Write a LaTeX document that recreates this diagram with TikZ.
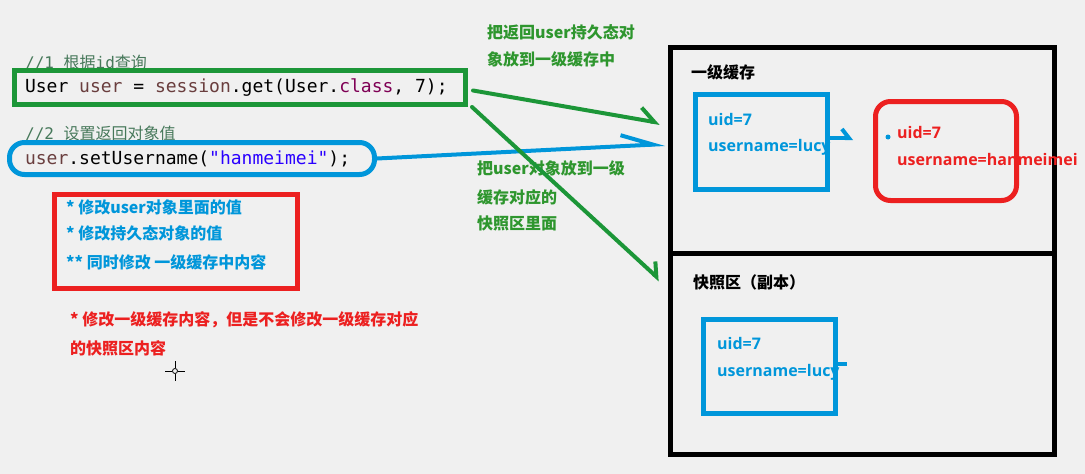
\documentclass[tikz,border=0pt]{standalone}
\usepackage{fontspec}
\setmainfont{Noto Sans CJK SC}
\newfontfamily\codefont{DejaVu Sans Mono}
\newfontfamily\fieldfont{Open Sans}
\usetikzlibrary{arrows.meta}
\newcommand\monosize[1]{\codefont\fontsize{#1}{#1}\selectfont}

\definecolor{bg}{RGB}{240,240,240}
\definecolor{mkgreen}{RGB}{28,150,56}
\definecolor{notegreen}{RGB}{46,150,46}
\definecolor{mkblue}{RGB}{0,150,218}
\definecolor{mkred}{RGB}{236,32,32}
\definecolor{cmtgreen}{RGB}{70,120,90}
\definecolor{varbrown}{RGB}{106,62,62}
\definecolor{kwpurple}{RGB}{127,0,85}
\definecolor{strblue}{RGB}{42,0,255}

\tikzset{
  cmt/.style={anchor=west, inner sep=0, text=cmtgreen, font=\fontsize{16}{18}\selectfont},
  codebox/.style={line width=5pt, inner ysep=0, align=left, font=\monosize{18},
    execute at begin node={\spaceskip=0pt\xspaceskip=0pt\relax}},
  pen/.style={line width=4pt, line cap=round},
  harp/.style={-{Straight Barb[left, length=15pt, width=24pt]}},
  note/.style={anchor=west, inner sep=0, font=\bfseries\fontsize{16}{18}\selectfont},
  field/.style={anchor=west, inner sep=0, font=\fieldfont\bfseries\fontsize{16}{18}\selectfont},
  objbox/.style={line width=5pt, inner sep=0},
  areabox/.style={draw=black, line width=5pt, inner sep=0},
}

\begin{document}
\begin{tikzpicture}[x=1pt, y=-1pt]
  \useasboundingbox (0,0) rectangle (1085,474);
  \fill[bg] (0,0) rectangle (1085,474);

  % code lines
  \node[cmt] (cmtget) at (25,63) {{\monosize{16}//1 }根据{\monosize{16}id}查询};
  \node[cmt] (cmtset) at (25,133) {{\monosize{16}//2 }设置返回对象值};
  \node[codebox, draw=mkgreen, minimum width=451, minimum height=34, text width=430, inner xsep=10.5]
    (getcall) at (240,87.5) {User {\color{varbrown}user} = {\color{varbrown}session}.get(User.{\color{kwpurple}class}, 7);};
  \node[codebox, draw=mkblue, rounded corners=15, minimum width=365, minimum height=32, text width=334, inner xsep=15.5]
    (setcall) at (192,158.5) {{\color{varbrown}user}.setUsername({\color{strblue}"hanmeimei"});};

  % notes on the left
  \node[objbox, draw=mkred, minimum width=243, minimum height=94.5] (notebox) at (176,241.25) {};
  \node[note, text=mkblue] (note1) at (66,207) {* 修改user对象里面的值};
  \node[note, text=mkblue] (note2) at (66,233) {* 修改持久态对象的值};
  \node[note, text=mkblue] (note3) at (66,262) {** 同时修改 一级缓存中内容};
  \node[note, text=mkred] (warn1) at (70,320) {* 修改一级缓存内容，但是不会修改一级缓存对应};
  \node[note, text=mkred] (warn2) at (70,348) {的快照区内容};

  % cursor
  \draw[line width=1pt] (165,371) -- (172,371) (178,371) -- (185,371) (175,361) -- (175,368) (175,374) -- (175,381);
  \draw[line width=0.8pt] (175,371) circle [radius=2.5];

  % arrow labels
  \node[note, text=notegreen] (put1) at (487,32) {把返回user持久态对};
  \node[note, text=notegreen] (put2) at (487,59) {象放到一级缓存中};
  \node[note, text=notegreen] (snap1) at (477,168) {把user对象放到一级};
  \node[note, text=notegreen] (snap2) at (477,197) {缓存对应的};
  \node[note, text=notegreen] (snap3) at (477,223) {快照区里面};

  % session areas
  \node[areabox, minimum width=384, minimum height=206] (cache) at (862.5,150) {};
  \node[areabox, minimum width=384, minimum height=201.5] (snap) at (862.5,353.75) {};
  \node[note] (cachetitle) at (691,72) {一级缓存};
  \node[note] (snaptitle) at (693,282) {快照区（副本）};

  % objects
  \node[field, text=mkblue] (cacheuid) at (708,119) {uid=7};
  \node[field, text=mkblue] (cachename) at (708,147) {username=lucy};
  \node[field, text=mkred] (newuid) at (897,132) {uid=7};
  \node[field, text=mkred] (newname) at (897,159) {username=hanmeimei};
  \node[field, text=mkblue] (snapuid) at (717,343) {uid=7};
  \node[field, text=mkblue] (snapname) at (717,372) {username=lucy};
  \node[objbox, draw=mkblue, minimum width=132, minimum height=95] (cacheobj) at (761.5,142) {};
  \node[objbox, draw=mkred, rounded corners=15, minimum width=141, minimum height=99] (newobj) at (946,151) {};
  \node[objbox, draw=mkblue, minimum width=132, minimum height=94] (snapobj) at (769.5,366.5) {};
  \fill[mkblue] (888,137) circle [radius=2.5];

  % connectors
  \coordinate (cachein) at (660,123);
  \coordinate (snapin) at (660,280);
  \coordinate (bluein) at (665,144);
  \coordinate (hooktip) at (853,138);
  \coordinate (snapstub) at (847,364);
  \draw[pen, mkblue, -{Straight Barb[left, length=32pt, width=22pt]}] (setcall.east) -- (bluein);
  \draw[pen, mkgreen, harp] ([xshift=5pt, yshift=-3pt]getcall.east) -- (cachein);
  \draw[pen, mkgreen, -{Straight Barb[left, length=11pt, width=21pt]}] ([xshift=4pt]getcall.south east) -- (snapin);
  \draw[pen, mkblue, -{Straight Barb[left, length=7pt, width=18pt]}] ([yshift=4pt]cacheobj.east) -- (hooktip);
  \draw[line width=4pt, mkblue] ([yshift=2.5pt]snapobj.east) -- (snapstub);
\end{tikzpicture}
\end{document}
